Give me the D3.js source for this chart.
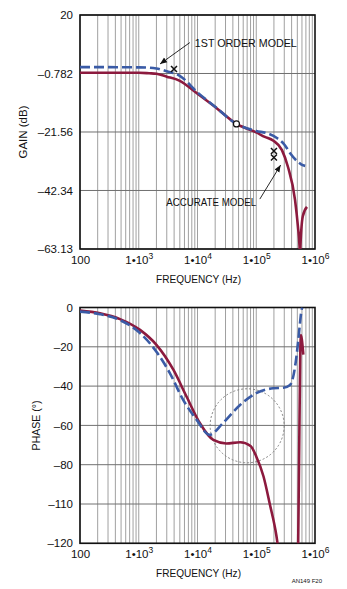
<!DOCTYPE html>
<html><head><meta charset="utf-8">
<script src="https://cdn.jsdelivr.net/npm/d3@7"></script>
<style>
html,body{margin:0;padding:0;background:#fff;}
text{font-family:"Liberation Sans",Arial,sans-serif;fill:#111;}
</style></head><body>
<svg id="c" width="347" height="589"></svg>
<script>
// ---------- DATA ----------
const freqTicks = [100, 1e3, 1e4, 1e5, 1e6];
const xTickBase = ["100", "1\u202210", "1\u202210", "1\u202210", "1\u202210"];
const xTickExp  = ["", "3", "4", "5", "6"];

const gainTicks = [20, -0.782, -21.56, -42.34, -63.13];
const gainTickLabels = ["20", "\u20130.782", "\u201321.56", "\u201342.34", "\u201363.13"];

const phaseTicks = [0, -20, -40, -60, -80, -100, -120];
const phaseTickLabels = ["0", "\u201320", "\u201340", "\u201360", "\u201380", "\u2013110", "\u2013120"];

// Gain, 1st order model (blue dashed)
const gainBlueF = [100, 1000, 2000, 3000, 5000, 1e4, 2e4, 4.6e4, 1e5, 1.52e5, 2.25e5, 3e5, 3.75e5, 5e5, 6.25e5, 6.8e5];
const gainBlueV = [1.5, 1.4, 1.0, 0.0, -1.6, -7.5, -12.6, -18.7, -21.2, -22.0, -23.7, -26.0, -29.0, -32.0, -33.4, -33.6];

// Gain, accurate model (red)
const gainRedF = [100, 1000, 1500, 2000, 3000, 5000, 1e4, 2e4, 4.6e4, 1e5, 1.4e5, 1.93e5, 2.74e5, 3.47e5, 4.57e5, 5.13e5, 5.45e5, 5.55e5, 5.65e5, 6.2e5, 7.3e5];
const gainRedV = [-0.5, -0.5, -0.7, -0.9, -1.9, -3.4, -8.0, -12.7, -18.7, -21.7, -23.3, -24.6, -28.0, -34.0, -45.7, -55.3, -62.0, -66.0, -62.0, -51.5, -48.2];

// Phase, 1st order model (blue dashed)
const phaseBlueF = [100, 219, 480, 1050, 2000, 3400, 5700, 9700, 1.6e4, 2.7e4, 5.3e4, 1e5, 1.94e5, 2.9e5, 3.76e5, 4.58e5, 5.2e5, 5.55e5, 5.9e5, 6.1e5];
const phaseBlueV = [-2.1, -3.4, -6.4, -13, -22.5, -33.5, -47, -57.2, -64.8, -58.9, -49.6, -43.6, -41.1, -40.8, -39.4, -30.1, -16.5, -8, -1.3, 0];

// Phase, accurate model (red), two branches (wrap-around)
const phaseRedF = [100, 219, 480, 1050, 2000, 3900, 6500, 1.1e4, 1.86e4, 3.1e4, 5.3e4, 8.0e4, 1.0e5, 1.33e5, 1.7e5, 2.2e5, 2.5e5];
const phaseRedV = [-1.6, -3, -5.9, -11.4, -19, -31.8, -45.3, -58.9, -67.4, -69.2, -68.6, -70.5, -75.8, -86, -100, -116, -128];
const phaseRed2F = [5.15e5, 5.35e5, 5.55e5, 5.72e5, 5.95e5, 6.33e5];
const phaseRed2V = [-125, -80, -35, -14, -16, -24];

// Markers and annotations (data coordinates)
const crossPts = [[3.98e3, 0.8], [2.0e5, -28.3], [2.0e5, -30.6]];
const circlePts = [[4.6e4, -18.7]];
const annoText = ["1ST ORDER MODEL", "ACCURATE MODEL"];
const annoTextPos = [[9.0e3, 10.0], [1.0e5, -46.4]];
const annoArrowFrom = [[7.4e3, 10.2], [1.15e5, -45.4]];
const annoArrowTo = [[2.3e3, 2.6], [2.6e5, -33.3]];
const phaseCircleCenter = [7.0e4, -60.2];

// ---------- DRAW ----------
const svg = d3.select("#c");
const blue = "#3a5ba6", red = "#8c1a3e";
const FS = 11.5;

const defs = svg.append("defs");
defs.append("marker").attr("id","ah").attr("viewBox","0 0 10 10").attr("refX",10).attr("refY",5)
  .attr("markerWidth",7).attr("markerHeight",7).attr("orient","auto-start-reverse").attr("markerUnits","userSpaceOnUse")
  .append("path").attr("d","M0,1 L10,5 L0,9 z").attr("fill","#111");

function panel(y0, y1, yDomain, yTicks, yLabels, yTitle, yTitleX, yTitleLen, id) {
  const x = d3.scaleLog().domain([100, 1e6]).range([80, 315]);
  const y = d3.scaleLinear().domain(yDomain).range([y1, y0]);
  const g = svg.append("g");
  defs.append("clipPath").attr("id", id).append("rect")
    .attr("x", 80).attr("y", y0).attr("width", 235).attr("height", y1 - y0);

  const vgrid = [];
  for (let d = 100; d < 1e6; d *= 10) for (let k = 1; k < 10; k++) vgrid.push(d * k);
  g.append("g").selectAll("line").data(vgrid).join("line")
    .attr("x1", d => x(d)).attr("x2", d => x(d)).attr("y1", y0).attr("y2", y1)
    .attr("stroke", "#a0a0a0").attr("stroke-width", 1);
  g.append("g").selectAll("line").data(yTicks).join("line")
    .attr("x1", 80).attr("x2", 315).attr("y1", d => y(d)).attr("y2", d => y(d))
    .attr("stroke", "#707070").attr("stroke-width", 1);

  const ya = d3.axisLeft(y).tickValues(yTicks).tickSize(0).tickPadding(7)
    .tickFormat((d, i) => yLabels[i]);
  const yg = g.append("g").attr("transform", "translate(80,0)").call(ya);
  yg.select(".domain").remove();
  yg.selectAll("text").attr("font-size", FS).attr("font-family", "'Liberation Sans',Arial,sans-serif").attr("fill", "#111");

  const xa = d3.axisBottom(x).tickValues(freqTicks).tickSize(0).tickPadding(7).tickFormat(() => "");
  const xg = g.append("g").attr("transform", `translate(0,${y1})`).call(xa);
  xg.select(".domain").remove();
  xg.selectAll(".tick text").each(function(d, i) {
    const t = d3.select(this).attr("font-size", FS).attr("font-family", "'Liberation Sans',Arial,sans-serif").attr("fill", "#111");
    t.append("tspan").text(xTickBase[i]);
    if (xTickExp[i]) t.append("tspan").attr("dy", -5).attr("font-size", 8.5).text(xTickExp[i]);
  });

  g.append("rect").attr("x", 80).attr("y", y0).attr("width", 235).attr("height", y1 - y0)
    .attr("fill", "none").attr("stroke", "#111").attr("stroke-width", 1.6);

  g.append("text").attr("x", 198.5).attr("y", y1 + 34).attr("text-anchor", "middle")
    .attr("font-size", FS).attr("textLength", 85).attr("lengthAdjust", "spacingAndGlyphs").text("FREQUENCY (Hz)");
  g.append("text").attr("transform", `translate(${yTitleX},${(y0 + y1) / 2}) rotate(-90)`)
    .attr("text-anchor", "middle").attr("font-size", FS)
    .attr("textLength", yTitleLen).attr("lengthAdjust", "spacingAndGlyphs").text(yTitle);

  return { x, y, g };
}

function drawLine(p, F, V, color, dashed, clipId) {
  const line = d3.line().x(d => p.x(d[0])).y(d => p.y(d[1])).curve(d3.curveMonotoneX);
  p.g.append("path").datum(F.map((f, i) => [f, V[i]])).attr("d", line)
    .attr("fill", "none").attr("stroke", color).attr("stroke-width", 2.6)
    .attr("stroke-linecap", "butt").attr("stroke-linejoin", "round")
    .attr("stroke-dasharray", dashed ? "10,4" : null)
    .attr("clip-path", `url(#${clipId})`);
}

// ---- Top panel: Gain ----
const gainP = panel(15, 249, [-63.13, 20], gainTicks, gainTickLabels, "GAIN (dB)", 27, 53, "clipTop");
drawLine(gainP, gainRedF, gainRedV, red, false, "clipTop");
drawLine(gainP, gainBlueF, gainBlueV, blue, true, "clipTop");

gainP.g.append("g").selectAll("path").data(crossPts).join("path")
  .attr("d", d => { const cx = gainP.x(d[0]), cy = gainP.y(d[1]), s = 3; return `M${cx-s},${cy-s}L${cx+s},${cy+s}M${cx-s},${cy+s}L${cx+s},${cy-s}`; })
  .attr("stroke", "#111").attr("stroke-width", 1.5);
gainP.g.append("g").selectAll("circle").data(circlePts).join("circle")
  .attr("cx", d => gainP.x(d[0])).attr("cy", d => gainP.y(d[1])).attr("r", 3)
  .attr("fill", "#fff").attr("stroke", "#111").attr("stroke-width", 1.2);

gainP.g.append("g").selectAll("line").data(annoArrowFrom).join("line")
  .attr("x1", d => gainP.x(d[0])).attr("y1", d => gainP.y(d[1]))
  .attr("x2", (d, i) => gainP.x(annoArrowTo[i][0])).attr("y2", (d, i) => gainP.y(annoArrowTo[i][1]))
  .attr("stroke", "#111").attr("stroke-width", 0.9).attr("marker-end", "url(#ah)");
const annoLen = [102, 90];
gainP.g.append("g").selectAll("text").data(annoText).join("text")
  .attr("x", (d, i) => gainP.x(annoTextPos[i][0])).attr("y", (d, i) => gainP.y(annoTextPos[i][1]))
  .attr("dy", "0.36em").attr("text-anchor", (d, i) => i === 0 ? "start" : "end")
  .attr("font-size", FS).attr("textLength", (d, i) => annoLen[i]).attr("lengthAdjust", "spacingAndGlyphs")
  .text(d => d);

// ---- Bottom panel: Phase ----
const phaseP = panel(307.5, 543.3, [-120, 0], phaseTicks, phaseTickLabels, "PHASE (\u00B0)", 40, 50, "clipBot");
phaseP.g.append("circle").attr("cx", phaseP.x(phaseCircleCenter[0])).attr("cy", phaseP.y(phaseCircleCenter[1])).attr("r", 37)
  .attr("fill", "none").attr("stroke", "#777").attr("stroke-width", 0.9).attr("stroke-dasharray", "2,2");
drawLine(phaseP, phaseRedF, phaseRedV, red, false, "clipBot");
drawLine(phaseP, phaseRed2F, phaseRed2V, red, false, "clipBot");
drawLine(phaseP, phaseBlueF, phaseBlueV, blue, true, "clipBot");

svg.append("text").attr("x", 322).attr("y", 583).attr("text-anchor", "end")
  .attr("font-size", 6).text("AN149 F20");
</script>
</body></html>
